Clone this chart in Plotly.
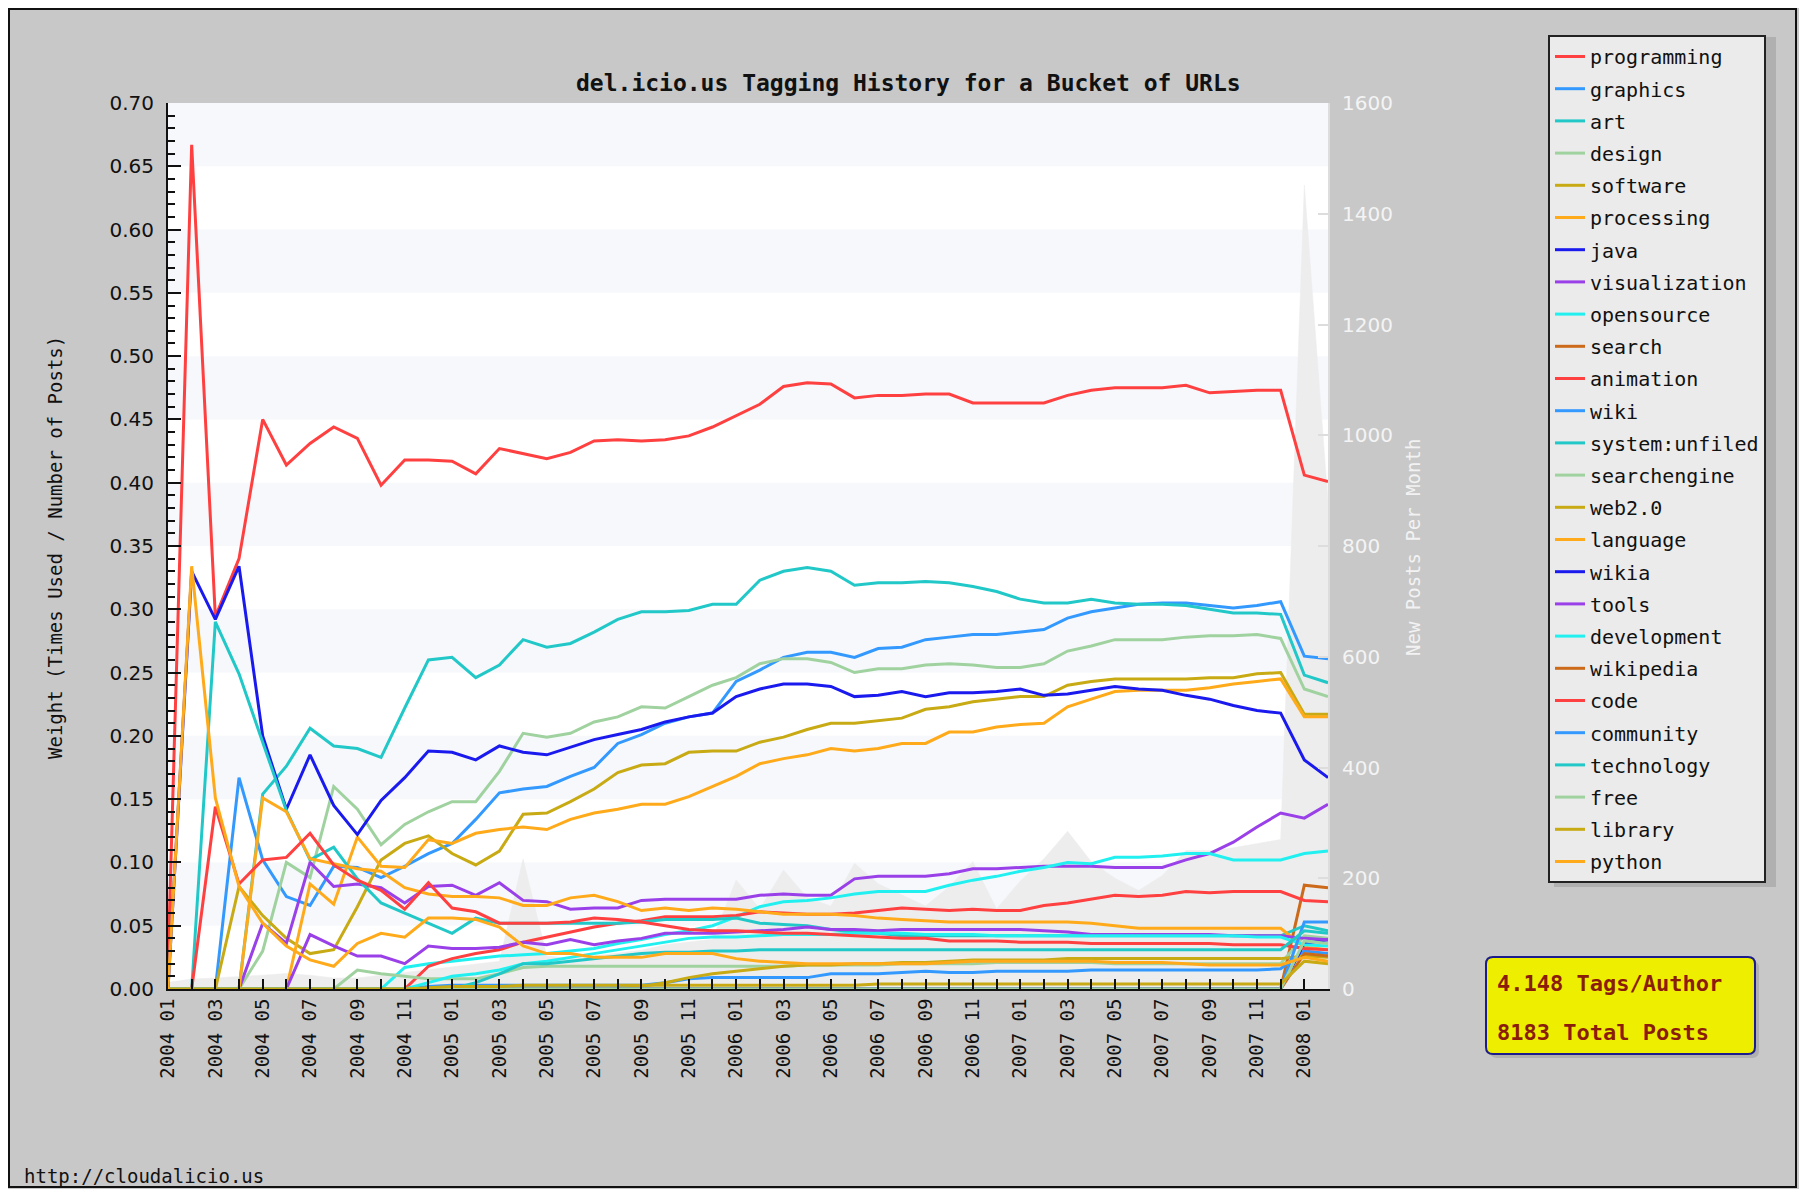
import plotly.graph_objects as go

# ---------------- data ----------------
years = [2004, 2005, 2006, 2007, 2008]
month_nums = [1, 2, 3, 4, 5, 6, 7, 8, 9, 10, 11, 12]
months = [f"{y} {m:02d}" for y in years for m in month_nums][:50]  # 2004 01 .. 2008 02

tags = ["programming", "graphics", "art", "design", "software", "processing", "java",
        "visualization", "opensource", "search", "animation", "wiki", "system:unfiled",
        "searchengine", "web2.0", "language", "wikia", "tools", "development", "wikipedia",
        "code", "community", "technology", "free", "library", "python"]

palette = ["#ff4040", "#3399ff", "#22c8c8", "#a0d2a0", "#c8aa14",
           "#ffaa1a", "#1a1aee", "#9a40e8", "#22f0f0", "#cc6a1a"]

programming = [0.02, 0.667, 0.294, 0.340, 0.450, 0.414, 0.431, 0.444, 0.435, 0.398,
               0.418, 0.418, 0.417, 0.407, 0.427, 0.423, 0.419, 0.424, 0.433, 0.434,
               0.433, 0.434, 0.437, 0.444, 0.453, 0.462, 0.476, 0.479, 0.478, 0.467,
               0.469, 0.469, 0.470, 0.470, 0.463, 0.463, 0.463, 0.463, 0.469, 0.473,
               0.475, 0.475, 0.475, 0.477, 0.471, 0.472, 0.473, 0.473, 0.406, 0.401]
graphics = [0, 0, 0, 0.167, 0.102, 0.073, 0.066, 0.097, 0.096, 0.088,
            0.097, 0.107, 0.115, 0.134, 0.155, 0.158, 0.160, 0.168, 0.175, 0.194,
            0.201, 0.210, 0.215, 0.218, 0.243, 0.252, 0.262, 0.266, 0.266, 0.262,
            0.269, 0.270, 0.276, 0.278, 0.280, 0.280, 0.282, 0.284, 0.293, 0.298,
            0.301, 0.304, 0.305, 0.305, 0.303, 0.301, 0.303, 0.306, 0.263, 0.261]
art = [0, 0, 0, 0, 0.154, 0.176, 0.206, 0.192, 0.190, 0.183,
       0.222, 0.260, 0.262, 0.246, 0.256, 0.276, 0.270, 0.273, 0.282, 0.292,
       0.298, 0.298, 0.299, 0.304, 0.304, 0.323, 0.330, 0.333, 0.330, 0.319,
       0.321, 0.321, 0.322, 0.321, 0.318, 0.314, 0.308, 0.305, 0.305, 0.308,
       0.305, 0.304, 0.304, 0.303, 0.300, 0.297, 0.297, 0.296, 0.248, 0.242]
design = [0, 0, 0, 0, 0.030, 0.100, 0.088, 0.160, 0.142, 0.114,
          0.130, 0.140, 0.148, 0.148, 0.172, 0.202, 0.199, 0.202, 0.211, 0.215,
          0.223, 0.222, 0.231, 0.240, 0.246, 0.257, 0.261, 0.261, 0.258, 0.250,
          0.253, 0.253, 0.256, 0.257, 0.256, 0.254, 0.254, 0.257, 0.267, 0.271,
          0.276, 0.276, 0.276, 0.278, 0.279, 0.279, 0.280, 0.277, 0.237, 0.231]
software = [0, 0, 0, 0.081, 0.058, 0.040, 0.028, 0.031, 0.065, 0.102,
            0.115, 0.121, 0.107, 0.098, 0.109, 0.138, 0.139, 0.148, 0.158, 0.171,
            0.177, 0.178, 0.187, 0.188, 0.188, 0.195, 0.199, 0.205, 0.210, 0.210,
            0.212, 0.214, 0.221, 0.223, 0.227, 0.229, 0.231, 0.231, 0.240, 0.243,
            0.245, 0.245, 0.245, 0.245, 0.246, 0.246, 0.249, 0.250, 0.217, 0.217]
processing = [0, 0, 0, 0, 0, 0, 0.083, 0.067, 0.120, 0.097,
              0.096, 0.118, 0.115, 0.123, 0.126, 0.128, 0.126, 0.134, 0.139, 0.142,
              0.146, 0.146, 0.152, 0.160, 0.168, 0.178, 0.182, 0.185, 0.190, 0.188,
              0.190, 0.194, 0.194, 0.203, 0.203, 0.207, 0.209, 0.210, 0.223, 0.229,
              0.235, 0.236, 0.236, 0.236, 0.238, 0.241, 0.243, 0.245, 0.215, 0.215]
java = [0, 0.330, 0.292, 0.334, 0.200, 0.142, 0.185, 0.145, 0.122, 0.149,
        0.167, 0.188, 0.187, 0.181, 0.192, 0.187, 0.185, 0.191, 0.197, 0.201,
        0.205, 0.211, 0.215, 0.218, 0.231, 0.237, 0.241, 0.241, 0.239, 0.231,
        0.232, 0.235, 0.231, 0.234, 0.234, 0.235, 0.237, 0.232, 0.233, 0.236,
        0.239, 0.237, 0.236, 0.232, 0.229, 0.224, 0.220, 0.218, 0.181, 0.167]
visualization = [0, 0, 0, 0, 0.052, 0.036, 0.100, 0.081, 0.083, 0.080,
                 0.068, 0.081, 0.082, 0.074, 0.084, 0.070, 0.069, 0.063, 0.064, 0.064,
                 0.070, 0.071, 0.071, 0.071, 0.071, 0.074, 0.075, 0.074, 0.074, 0.087,
                 0.089, 0.089, 0.089, 0.091, 0.095, 0.095, 0.096, 0.097, 0.097, 0.097,
                 0.096, 0.096, 0.096, 0.102, 0.107, 0.116, 0.128, 0.139, 0.135, 0.146]
opensource = [0, 0, 0, 0, 0, 0, 0, 0, 0, 0,
              0.017, 0.020, 0.022, 0.024, 0.026, 0.027, 0.028, 0.030, 0.032, 0.036,
              0.039, 0.043, 0.046, 0.050, 0.057, 0.065, 0.069, 0.070, 0.072, 0.075,
              0.077, 0.077, 0.077, 0.082, 0.086, 0.089, 0.093, 0.096, 0.100, 0.099,
              0.104, 0.104, 0.105, 0.107, 0.107, 0.102, 0.102, 0.102, 0.107, 0.109]
search = [0, 0, 0, 0, 0, 0, 0, 0, 0, 0,
          0, 0, 0, 0, 0, 0, 0, 0, 0, 0,
          0, 0, 0, 0, 0, 0, 0, 0, 0, 0,
          0, 0, 0, 0, 0, 0, 0, 0, 0, 0,
          0, 0, 0, 0, 0, 0, 0, 0, 0.082, 0.080]
animation = [0, 0, 0, 0, 0, 0, 0, 0, 0, 0,
             0.000, 0.018, 0.024, 0.028, 0.031, 0.037, 0.041, 0.045, 0.049, 0.052,
             0.054, 0.057, 0.057, 0.057, 0.058, 0.061, 0.060, 0.059, 0.059, 0.060,
             0.062, 0.064, 0.063, 0.062, 0.063, 0.062, 0.062, 0.066, 0.068, 0.071,
             0.074, 0.073, 0.074, 0.077, 0.076, 0.077, 0.077, 0.077, 0.070, 0.069]
wiki = [0, 0, 0, 0, 0, 0, 0, 0, 0, 0,
        0, 0.002, 0.003, 0.003, 0.003, 0.003, 0.003, 0.003, 0.003, 0.003,
        0.003, 0.005, 0.008, 0.009, 0.009, 0.009, 0.009, 0.009, 0.012, 0.012,
        0.012, 0.013, 0.014, 0.013, 0.013, 0.014, 0.014, 0.014, 0.014, 0.015,
        0.015, 0.015, 0.015, 0.015, 0.015, 0.015, 0.015, 0.016, 0.030, 0.028]
system_unfiled = [0, 0, 0.290, 0.249, 0.195, 0.141, 0.102, 0.112, 0.087, 0.068,
                  0.060, 0.052, 0.044, 0.056, 0.052, 0.052, 0.052, 0.052, 0.052, 0.052,
                  0.053, 0.055, 0.055, 0.055, 0.056, 0.052, 0.051, 0.050, 0.047, 0.045,
                  0.044, 0.042, 0.042, 0.042, 0.042, 0.042, 0.042, 0.042, 0.042, 0.042,
                  0.042, 0.042, 0.042, 0.042, 0.042, 0.042, 0.042, 0.042, 0.050, 0.046]
searchengine = [0, 0, 0, 0, 0, 0, 0, 0, 0.015, 0.012,
                0.010, 0.008, 0.008, 0.008, 0.012, 0.017, 0.018, 0.018, 0.018, 0.018,
                0.018, 0.018, 0.018, 0.018, 0.018, 0.018, 0.018, 0.019, 0.019, 0.019,
                0.019, 0.020, 0.020, 0.020, 0.020, 0.021, 0.021, 0.021, 0.021, 0.021,
                0.020, 0.020, 0.020, 0.020, 0.020, 0.020, 0.020, 0.020, 0.042, 0.040]
web20 = [0, 0, 0, 0, 0, 0, 0, 0, 0, 0,
         0, 0, 0, 0, 0, 0, 0, 0, 0, 0,
         0.002, 0.005, 0.009, 0.012, 0.014, 0.016, 0.018, 0.019, 0.019, 0.020,
         0.020, 0.021, 0.021, 0.022, 0.023, 0.023, 0.023, 0.023, 0.024, 0.024,
         0.024, 0.024, 0.024, 0.024, 0.024, 0.024, 0.024, 0.024, 0.026, 0.025]
language = [0, 0, 0, 0, 0.151, 0.140, 0.103, 0.099, 0.095, 0.093,
            0.080, 0.075, 0.073, 0.073, 0.072, 0.066, 0.066, 0.072, 0.074, 0.069,
            0.062, 0.064, 0.062, 0.064, 0.063, 0.061, 0.059, 0.059, 0.059, 0.058,
            0.056, 0.055, 0.054, 0.053, 0.053, 0.053, 0.053, 0.053, 0.053, 0.052,
            0.050, 0.048, 0.048, 0.048, 0.048, 0.048, 0.048, 0.048, 0.033, 0.031]
wikia = [0, 0, 0, 0, 0, 0, 0, 0, 0, 0,
         0, 0, 0, 0, 0, 0, 0, 0, 0, 0,
         0, 0, 0, 0, 0, 0, 0, 0, 0, 0,
         0, 0, 0, 0, 0, 0, 0, 0, 0, 0,
         0, 0, 0, 0, 0, 0, 0, 0, 0.036, 0.039]
tools = [0, 0, 0, 0, 0, 0, 0.043, 0.034, 0.026, 0.026,
         0.020, 0.034, 0.032, 0.032, 0.033, 0.037, 0.035, 0.039, 0.035, 0.038,
         0.040, 0.044, 0.044, 0.044, 0.045, 0.046, 0.047, 0.049, 0.047, 0.047,
         0.046, 0.047, 0.047, 0.047, 0.047, 0.047, 0.047, 0.046, 0.045, 0.043,
         0.043, 0.043, 0.043, 0.043, 0.043, 0.042, 0.042, 0.042, 0.040, 0.039]
development = [0, 0, 0, 0, 0, 0, 0, 0, 0, 0,
               0, 0.005, 0.010, 0.012, 0.015, 0.020, 0.022, 0.025, 0.028, 0.031,
               0.034, 0.037, 0.040, 0.041, 0.041, 0.042, 0.043, 0.043, 0.043, 0.044,
               0.044, 0.044, 0.043, 0.043, 0.043, 0.042, 0.042, 0.042, 0.042, 0.042,
               0.042, 0.042, 0.042, 0.042, 0.042, 0.042, 0.041, 0.041, 0.035, 0.034]
wikipedia = [0, 0, 0, 0, 0, 0, 0, 0, 0, 0,
             0, 0, 0, 0, 0, 0, 0, 0, 0, 0,
             0, 0, 0, 0, 0, 0, 0, 0, 0, 0,
             0, 0, 0, 0, 0, 0, 0, 0, 0, 0,
             0, 0, 0, 0, 0, 0, 0, 0, 0.028, 0.026]
code = [0, 0, 0.144, 0.083, 0.102, 0.104, 0.123, 0.098, 0.086, 0.078,
        0.063, 0.084, 0.064, 0.061, 0.052, 0.052, 0.052, 0.053, 0.056, 0.055,
        0.053, 0.050, 0.047, 0.046, 0.046, 0.045, 0.044, 0.044, 0.043, 0.042,
        0.041, 0.040, 0.040, 0.038, 0.038, 0.038, 0.037, 0.037, 0.037, 0.036,
        0.036, 0.036, 0.036, 0.036, 0.036, 0.035, 0.035, 0.035, 0.032, 0.031]
community = [0, 0, 0, 0, 0, 0, 0, 0, 0, 0,
             0, 0, 0, 0, 0, 0, 0, 0, 0, 0,
             0, 0, 0, 0, 0, 0, 0, 0, 0, 0,
             0, 0, 0, 0, 0, 0, 0, 0, 0, 0,
             0, 0, 0, 0, 0, 0, 0, 0, 0.053, 0.053]
technology = [0, 0, 0, 0, 0, 0, 0, 0, 0, 0,
              0, 0, 0, 0.005, 0.012, 0.020, 0.020, 0.022, 0.024, 0.026,
              0.028, 0.029, 0.029, 0.030, 0.030, 0.031, 0.031, 0.031, 0.031, 0.031,
              0.031, 0.031, 0.031, 0.031, 0.031, 0.031, 0.031, 0.031, 0.031, 0.031,
              0.031, 0.031, 0.031, 0.031, 0.031, 0.031, 0.031, 0.031, 0.046, 0.044]
free = [0, 0, 0, 0, 0, 0, 0, 0, 0, 0,
        0, 0, 0, 0, 0, 0, 0, 0, 0, 0,
        0, 0, 0, 0, 0, 0, 0, 0, 0, 0,
        0, 0, 0, 0, 0, 0, 0, 0, 0, 0,
        0, 0, 0, 0, 0, 0, 0, 0, 0.038, 0.036]
library = [0, 0, 0, 0, 0, 0, 0, 0, 0, 0,
           0, 0.001, 0.002, 0.002, 0.002, 0.003, 0.003, 0.003, 0.003, 0.003,
           0.003, 0.003, 0.003, 0.003, 0.003, 0.003, 0.003, 0.003, 0.003, 0.003,
           0.004, 0.004, 0.004, 0.004, 0.004, 0.004, 0.004, 0.004, 0.004, 0.004,
           0.004, 0.004, 0.004, 0.004, 0.004, 0.004, 0.004, 0.004, 0.022, 0.020]
python = [0, 0.334, 0.151, 0.081, 0.052, 0.034, 0.023, 0.018, 0.036, 0.044,
          0.041, 0.056, 0.056, 0.055, 0.049, 0.034, 0.028, 0.028, 0.025, 0.025,
          0.025, 0.028, 0.028, 0.028, 0.024, 0.022, 0.021, 0.020, 0.020, 0.020,
          0.020, 0.020, 0.020, 0.021, 0.022, 0.022, 0.022, 0.022, 0.022, 0.022,
          0.021, 0.021, 0.021, 0.020, 0.019, 0.019, 0.019, 0.019, 0.025, 0.022]

posts_per_month = [12, 18, 20, 22, 25, 28, 25, 20, 20, 25,
                   30, 35, 40, 45, 50, 235, 60, 55, 60, 65,
                   70, 80, 85, 90, 197, 145, 215, 165, 150, 227,
                   190, 170, 150, 185, 230, 145, 195, 235, 285, 230,
                   200, 178, 205, 250, 250, 255, 262, 270, 1452, 880]

series = [programming, graphics, art, design, software, processing, java,
          visualization, opensource, search, animation, wiki, system_unfiled,
          searchengine, web20, language, wikia, tools, development, wikipedia,
          code, community, technology, free, library, python]

tick_weights = [0.05 * k for k in range(15)]
post_ticks = [200 * k for k in range(9)]

# ---------------- geometry (figure pixels) ----------------
FIG_W, FIG_H = 1791, 1181
ML, MT = 160, 95
PW, PH = 1160, 886
MR = FIG_W - ML - PW
MB = FIG_H - MT - PH


def X(fx):
    return (fx - ML) / PW


def Y(fy):
    return (MT + PH - fy) / PH


x = list(range(len(months)))

fig = go.Figure()

# posts per month area (base axis, right side) -- drawn beneath the tag lines
fig.add_trace(go.Scatter(
    x=x, y=posts_per_month, mode="lines", fill="tozeroy",
    fillcolor="#ededed", line=dict(color="#ededed", width=0.5),
    yaxis="y", showlegend=False, hoverinfo="skip"))

for i, (name, vals) in enumerate(zip(tags, series)):
    fig.add_trace(go.Scatter(
        x=x, y=vals, mode="lines", name=name, yaxis="y2",
        legendgroup=name,
        line=dict(color=palette[i % 10], width=3)))

shapes = []
# alternating background bands
for k in range(1, 14, 2):
    shapes.append(dict(type="rect", xref="paper", yref="y2", x0=0, x1=1,
                       y0=tick_weights[k], y1=tick_weights[k + 1],
                       fillcolor="#f6f8fc", line=dict(width=0), layer="below"))

# outer frame
shapes.append(dict(type="rect", xref="paper", yref="paper",
                   x0=X(1), x1=X(1788), y0=Y(1), y1=Y(1179),
                   line=dict(color="#111111", width=2), fillcolor="rgba(0,0,0,0)"))
# legend shadow
shapes.append(dict(type="rect", xref="paper", yref="paper",
                   x0=X(1546), x1=X(1768), y0=Y(29), y1=Y(879),
                   line=dict(width=0), fillcolor="#b0b0b0"))


def rrect(x0, y0, x1, y1, r):
    pts = [
        ("M", [(x0 + r, y0)]), ("L", [(x1 - r, y0)]), ("Q", [(x1, y0), (x1, y0 + r)]),
        ("L", [(x1, y1 - r)]), ("Q", [(x1, y1), (x1 - r, y1)]), ("L", [(x0 + r, y1)]),
        ("Q", [(x0, y1), (x0, y1 - r)]), ("L", [(x0, y0 + r)]), ("Q", [(x0, y0), (x0 + r, y0)]),
    ]
    s = ""
    for cmd, ps in pts:
        s += cmd + " " + " ".join(f"{X(px):.5f},{Y(py):.5f}" for px, py in ps) + " "
    return s + "Z"


shapes.append(dict(type="path", xref="paper", yref="paper",
                   path=rrect(1482, 953, 1751, 1050, 7),
                   fillcolor="#b0b0b0", line=dict(width=0)))
shapes.append(dict(type="path", xref="paper", yref="paper",
                   path=rrect(1478, 949, 1747, 1046, 7),
                   fillcolor="#eeee00", line=dict(color="#1c1c8c", width=2)))

mono = "DejaVu Sans Mono"
sans = "DejaVu Sans"

annotations = [
    dict(text="<b>del.icio.us Tagging History for a Bucket of URLs</b>",
         xref="paper", yref="paper", x=X(900), y=Y(75), xanchor="center", yanchor="middle",
         showarrow=False, font=dict(family=mono, size=23, color="#111111")),
    dict(text="Weight (Times Used / Number of Posts)", textangle=-90,
         xref="paper", yref="paper", x=X(47), y=Y(540), xanchor="center", yanchor="middle",
         showarrow=False, font=dict(family=mono, size=19, color="#111111")),
    dict(text="New Posts Per Month", textangle=-90,
         xref="paper", yref="paper", x=X(1405), y=Y(540), xanchor="center", yanchor="middle",
         showarrow=False, font=dict(family=mono, size=19, color="#f2f2f2")),
    dict(text="<b>4.148 Tags/Author</b>",
         xref="paper", yref="paper", x=X(1487), y=Y(975), xanchor="left", yanchor="middle",
         showarrow=False, font=dict(family=mono, size=22, color="#8a1c0a")),
    dict(text="<b>8183 Total Posts</b>",
         xref="paper", yref="paper", x=X(1487), y=Y(1024), xanchor="left", yanchor="middle",
         showarrow=False, font=dict(family=mono, size=22, color="#8a1c0a")),
    dict(text="http://cloudalicio.us",
         xref="paper", yref="paper", x=X(14), y=Y(1168), xanchor="left", yanchor="middle",
         showarrow=False, font=dict(family=mono, size=19, color="#111111")),
]

fig.update_layout(
    width=FIG_W, height=FIG_H,
    margin=dict(l=ML, r=MR, t=MT, b=MB, pad=0),
    paper_bgcolor="#c8c8c8", plot_bgcolor="#ffffff",
    showlegend=True,
    legend=dict(x=X(1540), y=Y(875), xanchor="left", yanchor="bottom",
                bgcolor="#ebebeb", bordercolor="#222222", borderwidth=2,
                font=dict(family=mono, size=20, color="#111111"),
                traceorder="grouped", tracegroupgap=3.2, itemwidth=30),
    xaxis=dict(range=[0, len(months) - 1], tickmode="array", tickvals=x,
               ticktext=[m if j % 2 == 0 else "" for j, m in enumerate(months)],
               tickangle=-90, ticks="inside", ticklen=10, tickwidth=2, tickcolor="#111111",
               showline=True, linecolor="#111111", linewidth=2, showgrid=False, zeroline=False,
               tickfont=dict(family=mono, size=19, color="#111111")),
    yaxis=dict(side="right", range=[0, 1600], tickmode="array", tickvals=post_ticks,
               ticks="inside", ticklen=10, tickwidth=2, tickcolor="#dddddd",
               showline=True, linecolor="#dddddd", linewidth=2, showgrid=False, zeroline=False,
               ticklabelstandoff=8,
               tickfont=dict(family=sans, size=20, color="#f4f4f4")),
    yaxis2=dict(overlaying="y", side="left", range=[0, 0.70], tickmode="array",
                tickvals=tick_weights, tickformat=".2f",
                ticks="inside", ticklen=13, tickwidth=2, tickcolor="#111111",
                minor=dict(dtick=0.01, tick0=0, ticks="inside", ticklen=7, tickwidth=2,
                           tickcolor="#111111"),
                showline=True, linecolor="#111111", linewidth=2, showgrid=False, zeroline=False,
                ticklabelstandoff=8,
                tickfont=dict(family=sans, size=20, color="#111111")),
    shapes=shapes,
    annotations=annotations,
)

fig.write_html("out.html")
